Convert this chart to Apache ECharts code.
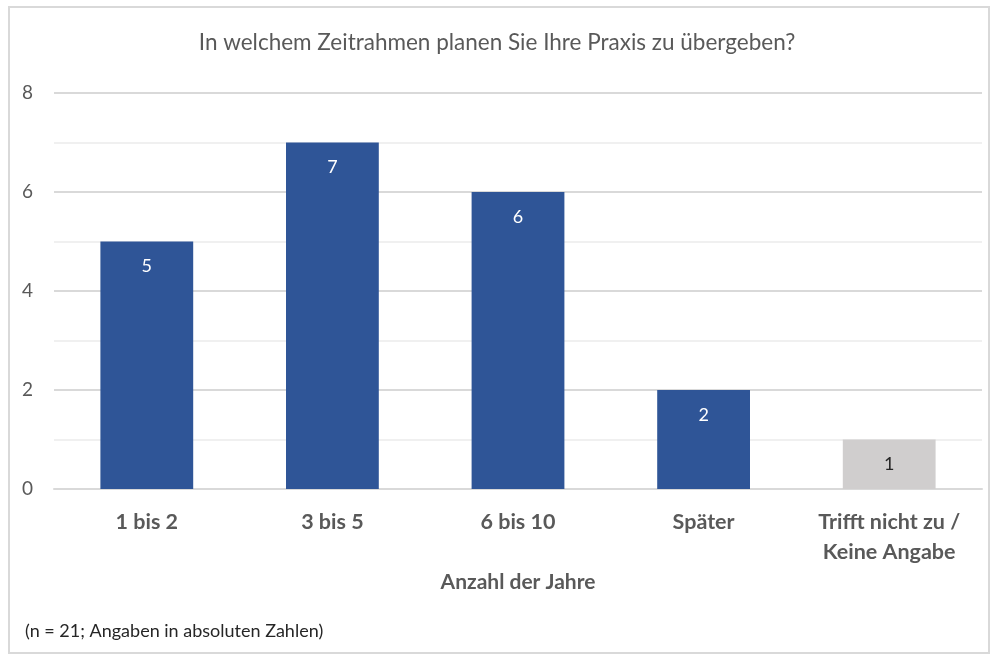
<!DOCTYPE html>
<html>
<head>
<meta charset="utf-8">
<script src="https://cdn.jsdelivr.net/npm/echarts@6/dist/echarts.min.js"></script>
<style>
  html, body { margin: 0; padding: 0; background: #fff; }
  #frame { position: absolute; left: 8px; top: 6px; width: 982px; height: 648px; border: 2px solid #d9d9d9; box-sizing: border-box; }
  #chart { position: absolute; left: 0; top: 0; width: 994px; height: 660px; }
</style>
</head>
<body>
<div id="frame"></div>
<div id="chart"></div>
<script>
const categories = ['1 bis 2', '3 bis 5', '6 bis 10', 'Später', 'Trifft nicht zu /\nKeine Angabe']
const values = [5, 7, 6, 2, 1]
const barColors = ['#2f5597', '#2f5597', '#2f5597', '#2f5597', '#d0cece']
const labelColors = ['#fff', '#fff', '#fff', '#fff', '#262626']

const chart = echarts.init(document.getElementById('chart'))
const font = 'Lato, "Open Sans", sans-serif'

const option = {
  textStyle: { fontFamily: font },
  title: {
    text: 'In welchem Zeitrahmen planen Sie Ihre Praxis zu übergeben?',
    left: 'center',
    top: 26,
    textStyle: { color: '#595959', fontSize: 22.5, fontWeight: 'normal', fontFamily: font }
  },
  graphic: [{
    type: 'text',
    left: 25,
    top: 622,
    style: { text: '(n = 21; Angaben in absoluten Zahlen)', fill: '#262626', font: '18px ' + font }
  }],
  grid: { left: 54, right: 12, top: 93, bottom: 171 },
  xAxis: {
    type: 'category',
    data: categories,
    name: 'Anzahl der Jahre',
    nameLocation: 'middle',
    nameGap: 78,
    nameTextStyle: { color: '#595959', fontSize: 21, fontWeight: 'bold', fontFamily: font },
    axisTick: { show: false },
    axisLine: { lineStyle: { color: '#d9d9d9', width: 2 } },
    axisLabel: { color: '#595959', fontSize: 21.5, fontWeight: 'bold', margin: 18, lineHeight: 30, interval: 0 }
  },
  yAxis: {
    type: 'value',
    min: 0,
    max: 8,
    interval: 2,
    axisLabel: { color: '#595959', fontSize: 19, margin: 21 },
    splitLine: { lineStyle: { color: '#d9d9d9', width: 2 } },
    minorTick: { show: false, splitNumber: 2 },
    minorSplitLine: { show: true, lineStyle: { color: '#f0f0f0', width: 2 } }
  },
  series: [{
    type: 'bar',
    barWidth: '50%',
    data: values.map((v, i) => ({
      value: v,
      itemStyle: { color: barColors[i] },
      label: { color: labelColors[i] }
    })),
    label: {
      show: true,
      position: 'insideTop',
      distance: 16,
      fontSize: 18,
      fontFamily: font
    }
  }]
}

chart.setOption(option)
</script>
</body>
</html>
